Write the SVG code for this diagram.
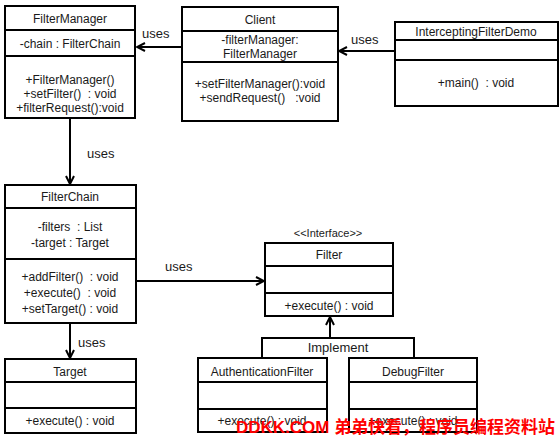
<svg xmlns="http://www.w3.org/2000/svg" width="560" height="438" viewBox="0 0 560 438">
<style>
.bx{fill:#fff;stroke:#000;stroke-width:2}
.ln{stroke:#000;stroke-width:2;fill:none}
text{font-family:"Liberation Sans",Arial,sans-serif;font-size:12px;fill:#1a1a1a;text-anchor:middle;white-space:pre}
.lbl{font-size:13px;text-anchor:start}
.st{font-size:11px}
.wm{font-family:"Liberation Sans","Noto Sans CJK SC",sans-serif;font-size:17px;font-weight:bold;fill:#f00;text-anchor:start}
</style>
<defs>
<marker id="ar" viewBox="0 0 10 10" refX="9" refY="5" markerWidth="10" markerHeight="10" markerUnits="userSpaceOnUse" orient="auto">
<path d="M1,1 L9,5 L1,9" fill="none" stroke="#000" stroke-width="2"/>
</marker>
</defs>
<g id="connectors">
<line class="ln" x1="182" y1="47" x2="137" y2="47" marker-end="url(#ar)"/>
<text class="lbl" x="142" y="38">uses</text>
<line class="ln" x1="395" y1="51" x2="339" y2="51" marker-end="url(#ar)"/>
<text class="lbl" x="351" y="44">uses</text>
<line class="ln" x1="70" y1="118" x2="70" y2="184" marker-end="url(#ar)"/>
<text class="lbl" x="87" y="158">uses</text>
<line class="ln" x1="136" y1="281" x2="264" y2="281" marker-end="url(#ar)"/>
<text class="lbl" x="165" y="271">uses</text>
<line class="ln" x1="70" y1="323" x2="70" y2="358" marker-end="url(#ar)"/>
<text class="lbl" x="78" y="347">uses</text>
<line class="ln" x1="330" y1="338" x2="330" y2="317" marker-end="url(#ar)"/>
<polyline class="ln" points="262,358 262,338 414,338 414,358"/>
<text x="338" y="352" style="font-size:13px">Implement</text>
</g>
<g id="FilterManager">
<rect class="bx" x="5" y="6" width="130" height="112"/>
<line class="ln" x1="5" y1="30" x2="135" y2="30"/>
<line class="ln" x1="5" y1="56" x2="135" y2="56"/>
<text x="70" y="23">FilterManager</text>
<text x="70" y="48">-chain : FilterChain</text>
<text x="70" y="84">+FilterManager()</text>
<text x="70" y="98">+setFilter()  : void</text>
<text x="70" y="112">+filterRequest():void</text>
</g>
<g id="Client">
<rect class="bx" x="182" y="7" width="156" height="114"/>
<line class="ln" x1="182" y1="31" x2="338" y2="31"/>
<line class="ln" x1="182" y1="62" x2="338" y2="62"/>
<text x="260" y="24">Client</text>
<text x="260" y="44">-filterManager:</text>
<text x="260" y="58">FilterManager</text>
<text x="260" y="88">+setFilterManager():void</text>
<text x="260" y="102">+sendRequest()   :void</text>
</g>
<g id="InterceptingFilterDemo">
<rect class="bx" x="395" y="22" width="163" height="84"/>
<line class="ln" x1="395" y1="40" x2="558" y2="40"/>
<line class="ln" x1="395" y1="60" x2="558" y2="60"/>
<text x="476" y="36">InterceptingFilterDemo</text>
<text x="476" y="87">+main()  : void</text>
</g>
<g id="FilterChain">
<rect class="bx" x="5" y="185" width="131" height="138"/>
<line class="ln" x1="5" y1="208" x2="136" y2="208"/>
<line class="ln" x1="5" y1="259" x2="136" y2="259"/>
<text x="70" y="201">FilterChain</text>
<text x="70" y="231">-filters  : List</text>
<text x="70" y="247">-target : Target</text>
<text x="70" y="281">+addFilter()  : void</text>
<text x="70" y="297">+execute()  : void</text>
<text x="70" y="313">+setTarget() : void</text>
</g>
<g id="Filter">
<text class="st" x="328" y="237">&lt;&lt;Interface&gt;&gt;</text>
<rect class="bx" x="265" y="243" width="128" height="73"/>
<line class="ln" x1="265" y1="266" x2="393" y2="266"/>
<line class="ln" x1="265" y1="293" x2="393" y2="293"/>
<text x="329" y="259">Filter</text>
<text x="329" y="310">+execute() : void</text>
</g>
<g id="Target">
<rect class="bx" x="5" y="359" width="131" height="74"/>
<line class="ln" x1="5" y1="382" x2="136" y2="382"/>
<line class="ln" x1="5" y1="408" x2="136" y2="408"/>
<text x="70" y="376">Target</text>
<text x="70" y="425">+execute() : void</text>
</g>
<g id="AuthenticationFilter">
<rect class="bx" x="198" y="358" width="129" height="74"/>
<line class="ln" x1="198" y1="382" x2="327" y2="382"/>
<line class="ln" x1="198" y1="409" x2="327" y2="409"/>
<text x="262" y="376">AuthenticationFilter</text>
<text x="262" y="425">+execute() : void</text>
</g>
<g id="DebugFilter">
<rect class="bx" x="349" y="358" width="128" height="74"/>
<line class="ln" x1="349" y1="382" x2="477" y2="382"/>
<line class="ln" x1="349" y1="409" x2="477" y2="409"/>
<text x="413" y="376">DebugFilter</text>
<text x="413" y="425">+execute() : void</text>
</g>
<text class="wm" x="236" y="433" textLength="319" lengthAdjust="spacingAndGlyphs">DDKK.COM 弟弟快看，程序员编程资料站</text>
</svg>
